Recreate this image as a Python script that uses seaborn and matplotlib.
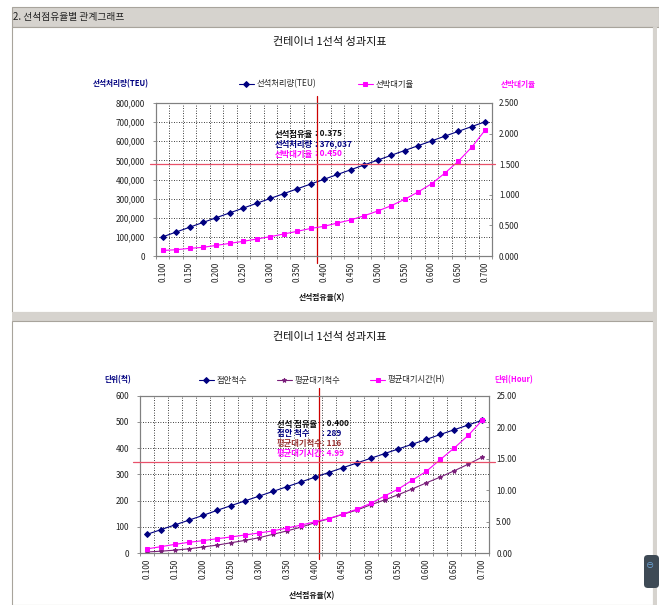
import matplotlib
matplotlib.use("Agg")
import matplotlib.pyplot as plt
import seaborn as sns
import pandas as pd
from matplotlib.patches import Rectangle, FancyBboxPatch

# ---------------------------------------------------------------- data
occupancy = [0.100, 0.125, 0.150, 0.175, 0.200, 0.225, 0.250, 0.275, 0.300,
             0.325, 0.350, 0.375, 0.400, 0.425, 0.450, 0.475, 0.500, 0.525,
             0.550, 0.575, 0.600, 0.625, 0.650, 0.675, 0.700]
occupancy_ticks = [0.100, 0.150, 0.200, 0.250, 0.300, 0.350, 0.400, 0.450,
                   0.500, 0.550, 0.600, 0.650, 0.700]

# chart 1: berth throughput (TEU) and vessel waiting ratio
throughput_teu = [100300, 125300, 150400, 175500, 200600, 225700, 250700,
                  275800, 300800, 325900, 351000, 376037, 401100, 426200,
                  451300, 476400, 501400, 526500, 551600, 576700, 601700,
                  626800, 651900, 677000, 702000]
waiting_ratio = [0.090, 0.103, 0.125, 0.142, 0.174, 0.207, 0.240, 0.278,
                 0.316, 0.359, 0.403, 0.450, 0.485, 0.539, 0.590, 0.659,
                 0.735, 0.822, 0.926, 1.046, 1.180, 1.355, 1.550, 1.780,
                 2.060]

# chart 2: berthed vessels, average waiting vessels, average waiting hours
berthed_vessels = [72, 90, 108, 126, 144, 163, 181, 199, 217, 235, 253, 271,
                   289, 307, 325, 343, 361, 379, 397, 415, 433, 452, 470,
                   488, 506]
waiting_vessels = [5, 8, 12, 17, 24, 31, 40, 49, 59, 72, 85, 99, 116, 131,
                   148, 164, 184, 203, 223, 245, 268, 290, 314, 339, 366]
waiting_hours = [0.70, 1.05, 1.42, 1.74, 2.00, 2.31, 2.58, 2.90, 3.21, 3.55,
                 4.00, 4.45, 4.99, 5.50, 6.20, 6.96, 7.90, 9.07, 10.20, 11.60,
                 13.00, 14.87, 16.70, 18.70, 21.10]

# reference cross-hair positions
cross1_x, cross1_y = 0.387, 1.50
cross2_x, cross2_y = 0.408, 14.50

df1 = pd.DataFrame({"occ": occupancy, "teu": throughput_teu, "ratio": waiting_ratio})
df2 = pd.DataFrame({"occ": occupancy, "berthed": berthed_vessels,
                    "wvessels": waiting_vessels, "whours": waiting_hours})

# ---------------------------------------------------------------- style
sns.set_theme(style="white")
plt.rcParams["font.family"] = ["Noto Sans CJK KR", "DejaVu Sans"]
plt.rcParams["axes.unicode_minus"] = False

W, H = 659, 605
fig = plt.figure(figsize=(W / 100, H / 100), dpi=100, facecolor="white")


def fx(px):
    return px / W


def fy(py):
    return 1 - py / H


NAVY = "#000080"
MAGENTA = "#ff00ff"
PURPLE = "#7a1f7a"
RED = "#cc0000"
HRED = "#e8506a"
GRID = "#000000"
FRAME = "#808080"

# ---------------------------------------------------------------- page chrome
def rect(x0, y0, x1, y1, fc, ec="none", lw=0.0, z=0):
    fig.patches.append(Rectangle((fx(x0), fy(y1)), fx(x1) - fx(x0), fy(y0) - fy(y1),
                                 transform=fig.transFigure, facecolor=fc,
                                 edgecolor=ec, linewidth=lw, zorder=z))

rect(12, 7, 659, 27, "#d6d3ce", "#a8a49c", 0.8)
rect(12, 27, 653, 312, "white", "#a8a49c", 0.8)
rect(12, 312, 653, 321, "#d6d3ce")
rect(12, 321, 653, 605, "white", "#a8a49c", 0.8)
rect(653, 27, 657, 605, "#d6d3ce")
fig.text(fx(13), fy(17), "2. 선석점유율별 관계그래프", fontsize=7, color="#202020",
         ha="left", va="center")
fig.patches.append(FancyBboxPatch((fx(644), fy(588)), fx(659) - fx(644), fy(555) - fy(588),
                                  boxstyle="round,pad=0,rounding_size=0.006",
                                  transform=fig.transFigure, facecolor="#3e4a55",
                                  edgecolor="none", zorder=3))
fig.text(fx(650), fy(566), "⊖", fontsize=6, color="#6fa8dc", ha="center", va="center",
         zorder=4)


# ---------------------------------------------------------------- helpers
def style_axes(ax, ax2, ylim, yticks, yfmt, ylim2, yticks2, y2fmt):
    ax.set_xlim(0.0875, 0.7125)
    ax.set_ylim(*ylim)
    ax.set_yticks(yticks)
    ax.set_yticklabels([yfmt(v) for v in yticks])
    ax.set_xticks(occupancy_ticks)
    ax.set_xticklabels([f"{v:.3f}" for v in occupancy_ticks], rotation=90)
    bounds = [0.0875 + 0.025 * i for i in range(26)]
    ax.set_xticks(bounds, minor=True)
    ax.grid(False)
    for yv in yticks[1:-1]:
        ax.axhline(yv, color=GRID, lw=0.6, ls=(0, (1, 2)), zorder=0.5)
    for xv in bounds[1:-1]:
        ax.axvline(xv, color=GRID, lw=0.6, ls=(0, (1, 2)), zorder=0.5)
    ax.tick_params(axis="x", which="major", length=0, pad=4, labelsize=5.8,
                   colors="#202020")
    ax.tick_params(axis="x", which="minor", length=2, width=0.6, color=FRAME,
                   direction="out", bottom=True)
    ax.tick_params(axis="y", length=2, width=0.6, color=FRAME, labelsize=5.8,
                   pad=6, colors="#202020", left=True, direction="out")
    ax2.set_ylim(*ylim2)
    ax2.set_yticks(yticks2)
    ax2.set_yticklabels([y2fmt(v) for v in yticks2])
    ax2.grid(False)
    ax2.tick_params(axis="y", length=2, width=0.6, color=FRAME, labelsize=5.8,
                    pad=5, colors="#202020", right=True, direction="in")
    for a in (ax, ax2):
        a.set_xlabel("")
        a.set_ylabel("")
        a.set_facecolor("none")
        for s in a.spines.values():
            s.set_color(FRAME)
            s.set_linewidth(0.8)
    ax.set_facecolor("white")
    ax.set_zorder(1)
    ax2.set_zorder(2)


# ---------------------------------------------------------------- chart 1
ax1 = fig.add_axes([fx(156), fy(256), (492 - 156) / W, (256 - 103) / H])
ax1b = ax1.twinx()
sns.lineplot(data=df1, x="occ", y="teu", ax=ax1, color=NAVY, lw=0.8,
             marker="D", markersize=3, markeredgecolor=NAVY, label="선석처리량(TEU)",
             legend=False)
sns.lineplot(data=df1, x="occ", y="ratio", ax=ax1b, color=MAGENTA, lw=0.8,
             marker="s", markersize=3.2, markeredgecolor=MAGENTA, label="선박대기율",
             legend=False)
style_axes(ax1, ax1b, (0, 800000), list(range(0, 800001, 100000)),
           lambda v: f"{v:,.0f}", (0, 2.5), [0, 0.5, 1.0, 1.5, 2.0, 2.5],
           lambda v: f"{v:.3f}")
ax1.axvline(cross1_x, ymin=-0.046, ymax=1.046, color=RED, lw=0.9, clip_on=False, zorder=5)
ax1b.axhline(cross1_y, xmin=-0.018, xmax=1.009, color=HRED, lw=0.9, clip_on=False, zorder=5)

fig.text(fx(330), fy(42), "컨테이너 1선석 성과지표", fontsize=8, ha="center", va="center",
         color="#101010")
fig.text(fx(121), fy(84), "선석처리량(TEU)", fontsize=5.5, ha="center", va="center",
         color=NAVY, fontweight="bold")
fig.text(fx(518), fy(85), "선박대기율", fontsize=5.5, ha="center", va="center",
         color=MAGENTA, fontweight="bold")
fig.text(fx(322), fy(298), "선석점유율(X)", fontsize=5.6, ha="center", va="center",
         color="#101010", fontweight="bold")
h1 = ax1.get_lines()[0]
h2 = ax1b.get_lines()[0]
fig.legend([h1, h2], ["선석처리량(TEU)", "선박대기율"], ncol=2, frameon=False,
           loc="center", bbox_to_anchor=(fx(326), fy(84)), fontsize=6,
           handlelength=1.8, handletextpad=0.3, columnspacing=5.0, borderpad=0)

for i, (name, val, col) in enumerate([("선석점유율", "0.375", "#101010"),
                                      ("선석처리량", "376,037", NAVY),
                                      ("선박대기율", "0.450", MAGENTA)]):
    yy = fy(134 + 10 * i)
    fig.text(fx(275), yy, name, fontsize=6, color=col, fontweight="bold",
             ha="left", va="center", zorder=10)
    fig.text(fx(315), yy, ": " + val, fontsize=6, color=col, fontweight="bold",
             ha="left", va="center", zorder=10)

# ---------------------------------------------------------------- chart 2
ax2 = fig.add_axes([fx(140), fy(553.3), (489.3 - 140) / W, (553.3 - 395.5) / H])
ax2b = ax2.twinx()
sns.lineplot(data=df2, x="occ", y="berthed", ax=ax2, color=NAVY, lw=0.8,
             marker="D", markersize=3, markeredgecolor=NAVY, label="접안척수",
             legend=False)
sns.lineplot(data=df2, x="occ", y="wvessels", ax=ax2, color=PURPLE, lw=0.8,
             marker="*", markersize=3.2, markeredgecolor=PURPLE, label="평균대기척수",
             legend=False)
sns.lineplot(data=df2, x="occ", y="whours", ax=ax2b, color=MAGENTA, lw=0.8,
             marker="s", markersize=3.4, markeredgecolor=MAGENTA, label="평균대기시간(H)",
             legend=False)
style_axes(ax2, ax2b, (0, 600), list(range(0, 601, 100)), lambda v: f"{v:.0f}",
           (0, 25), [0, 5, 10, 15, 20, 25], lambda v: f"{v:.2f}")
ax2.axvline(cross2_x, ymin=-0.036, ymax=1.047, color=RED, lw=0.9, clip_on=False, zorder=5)
ax2b.axhline(cross2_y, xmin=-0.02, xmax=1.016, color=HRED, lw=0.9, clip_on=False, zorder=5)

fig.text(fx(330), fy(337), "컨테이너 1선석 성과지표", fontsize=8, ha="center", va="center",
         color="#101010")
fig.text(fx(118), fy(380), "단위(척)", fontsize=5.5, ha="center", va="center",
         color=NAVY, fontweight="bold")
fig.text(fx(514), fy(380), "단위(Hour)", fontsize=5.5, ha="center", va="center",
         color=MAGENTA, fontweight="bold")
fig.text(fx(312), fy(596), "선석점유율(X)", fontsize=5.6, ha="center", va="center",
         color="#101010", fontweight="bold")
g1, g2 = ax2.get_lines()[0], ax2.get_lines()[1]
g3 = ax2b.get_lines()[0]
fig.legend([g1, g2, g3], ["접안척수", "평균대기척수", "평균대기시간(H)"], ncol=3,
           frameon=False, loc="center", bbox_to_anchor=(fx(322), fy(380)), fontsize=6,
           handlelength=1.8, handletextpad=0.3, columnspacing=3.6, borderpad=0)

for i, (name, val, col) in enumerate([("선석 점유율", "0.400", "#101010"),
                                      ("접안 척수", "289", NAVY),
                                      ("평균대기척수", "116", "#993333"),
                                      ("평균대기시간", "4.99", MAGENTA)]):
    yy = fy(424 + 9.8 * i)
    fig.text(fx(277), yy, name, fontsize=6, color=col, fontweight="bold",
             ha="left", va="center", zorder=10)
    fig.text(fx(322), yy, ": " + val, fontsize=6, color=col, fontweight="bold",
             ha="left", va="center", zorder=10)

fig.savefig("out.png", dpi=100, facecolor="white")
